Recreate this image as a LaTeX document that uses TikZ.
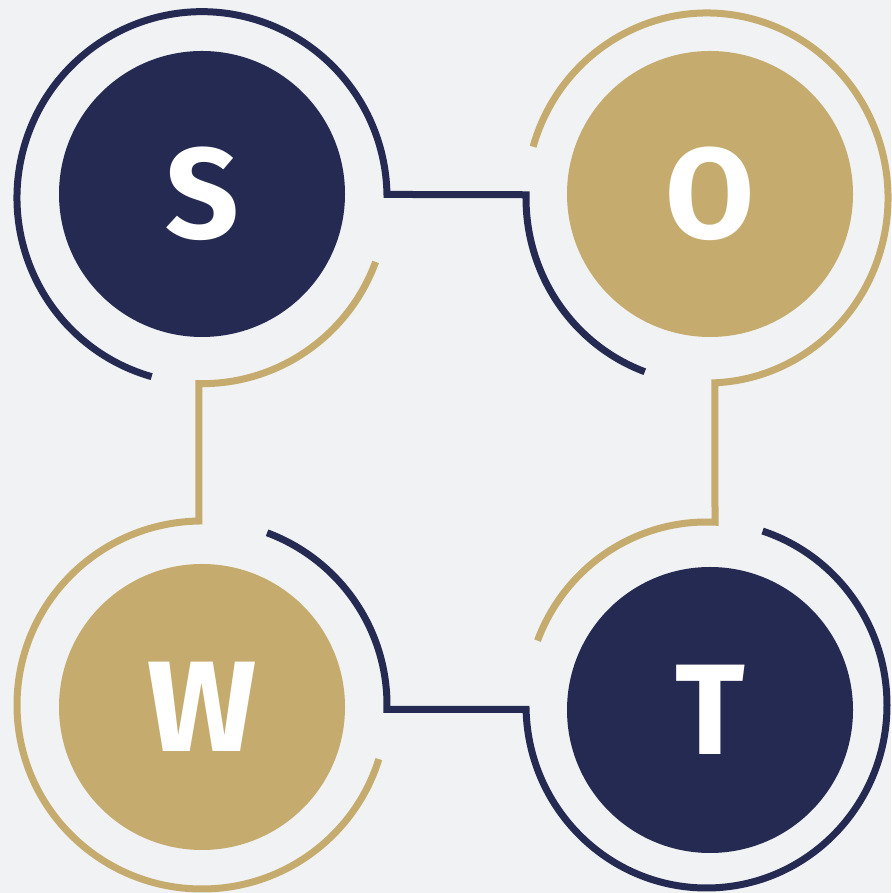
\documentclass[tikz,border=0pt]{standalone}
\usepackage{fontspec}
\setmainfont{Fira Sans}
\usetikzlibrary{calc}
\definecolor{navy}{HTML}{252A52}
\definecolor{gold}{HTML}{C5AB6D}
\definecolor{bg}{HTML}{F1F2F4}
\begin{document}
\begin{tikzpicture}[x=1pt,y=1pt,
  disc/.style={circle, minimum size=286pt, inner sep=0pt, text=white, font=\fontsize{129}{129}\selectfont\bfseries},
  ring/.style={line width=7pt, line cap=butt, line join=miter}]
\fill[bg] (0,0) rectangle (891,893);
\useasboundingbox (0,0) rectangle (891,893);
\node[disc, fill=navy] (S) at (202,699) {S};
\node[disc, fill=gold] (O) at (710,699) {O};
\node[disc, fill=gold] (W) at (202,186) {W};
\node[disc, fill=navy] (T) at (710,183) {T};
% ring centres
\coordinate (Sc) at ($(S)+(0,-3.7)$);
\coordinate (Oc) at ($(O)+(-3,-4)$);
\coordinate (Wc) at ($(W)+(0,2)$);
\coordinate (Tc) at ($(T)+(-3.5,5)$);
% navy: S -> O
\draw[ring, navy] ($(Sc)+(254.2:185 and 186)$) arc[start angle=254.2, end angle=1, x radius=185, y radius=186]
  -- ($(Oc)+(179:181 and 185)$) arc[start angle=179, end angle=249.9, x radius=181, y radius=185];
% gold: S -> W
\draw[ring, gold] ($(Sc)+(-20.2:185 and 186)$) arc[start angle=-20.2, end angle=-91, x radius=185, y radius=186]
  -- ($(Wc)+(91:185 and 184)$) arc[start angle=91, end angle=342.9, x radius=185, y radius=184];
% gold: O -> T
\draw[ring, gold] ($(Oc)+(163.9:181 and 185)$) arc[start angle=163.9, end angle=-87.5, x radius=181, y radius=185]
  -- ($(Tc)+(87.3:180.5 and 183)$) arc[start angle=87.3, end angle=159.4, x radius=180.5, y radius=183];
% navy: W -> T
\draw[ring, navy] ($(Wc)+(69.4:185 and 184)$) arc[start angle=69.4, end angle=-1.4, x radius=185, y radius=184]
  -- ($(Tc)+(181.4:180.5 and 183)$) arc[start angle=181.4, end angle=431.9, x radius=180.5, y radius=183];
\end{tikzpicture}
\end{document}
